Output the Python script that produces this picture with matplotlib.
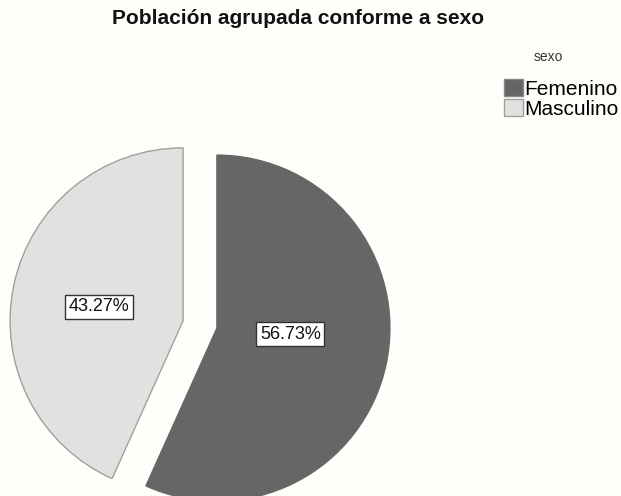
import matplotlib
matplotlib.use("Agg")
import matplotlib.pyplot as plt
from matplotlib.patches import Patch

plt.rcParams['font.family'] = ['Liberation Sans', 'DejaVu Sans']

title = "Población agrupada conforme a sexo"
legend_title = "sexo"
categories = ["Femenino", "Masculino"]
percentages = [56.73, 43.27]
colors = ["#666666", "#E1E1DF"]
edge_colors = ["#666666", "#A0A0A0"]

W, H = 621, 496
bg = "#FEFEFA"
fig = plt.figure(figsize=(W / 100, H / 100), dpi=100, facecolor=bg)
ax = fig.add_axes([0, 0, 1, 1], facecolor=bg)
ax.set_xlim(0, W)
ax.set_ylim(0, H)
ax.axis("off")

radius = 173
center = (200, H - 324.5)
wedges, texts, autotexts = ax.pie(
    percentages, colors=colors, radius=radius, center=center,
    startangle=90, counterclock=False,
    explode=[0.1 * radius] * len(percentages),
    autopct=lambda p: f"{p:.2f}%", pctdistance=0.47,
    wedgeprops=dict(linewidth=1.0), frame=False,
    textprops=dict(fontsize=13, color="#111111"))
for w, ec in zip(wedges, edge_colors):
    w.set_edgecolor(ec)
# label offsets (SPSS places them slightly differently from the bisector)
label_shift = [(-6, 11), (-5, -3)]
for t, (dx, dy) in zip(autotexts, label_shift):
    x, y = t.get_position()
    t.set_position((x + dx, y + dy))
    t.set_bbox(dict(boxstyle="square,pad=0.2", fc="white", ec="#333333", lw=1.0))
ax.set_xlim(0, W)
ax.set_ylim(0, H)
ax.set_aspect("auto")

fig.text(298 / W, 1 - 19 / H, title, ha="center", va="center",
         fontsize=15, fontweight="bold", color="#111111")
fig.text(548 / W, 1 - 57 / H, legend_title, ha="center", va="center",
         fontsize=10, color="#333333")

handles = [Patch(facecolor=c, edgecolor=e, linewidth=1.0) for c, e in zip(colors, ["#888888", "#A0A0A0"])]
leg = fig.legend(handles, categories, loc="upper right",
                 bbox_to_anchor=(619 / W, 1 - 79 / H), frameon=False, fontsize=15,
                 handlelength=0.9, handleheight=0.9, borderpad=0.0,
                 handletextpad=0.1, labelspacing=0.0, borderaxespad=0.0)

fig.savefig("out.png", dpi=100, facecolor=bg)
